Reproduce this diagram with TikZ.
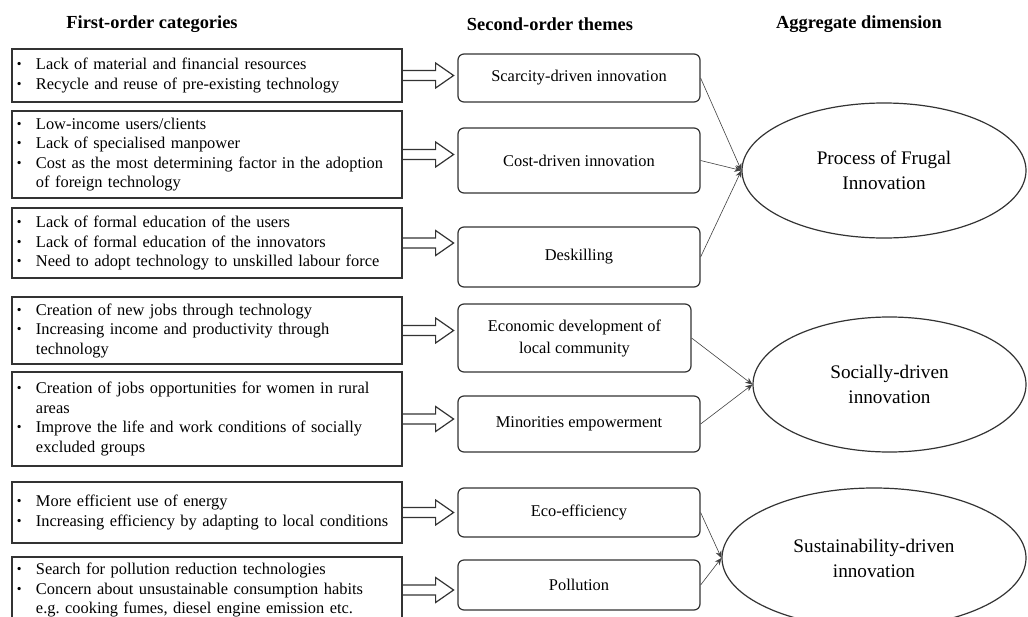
\documentclass[tikz,border=0pt]{standalone}
\usepackage{fontspec}
\setmainfont{Liberation Serif}
\usetikzlibrary{shapes.geometric,arrows.meta}
\newcommand{\bul}{\makebox[20pt][l]{\hspace{1pt}\raisebox{1pt}{\fontsize{13.5}{13.5}\selectfont\textbullet}}}
\newcommand{\cont}{\hspace*{20pt}}
\frenchspacing
\begin{document}
\begin{tikzpicture}
[x=1pt,y={(0pt,-1pt)},
  headLabel/.style={font=\bfseries\fontsize{18.4}{21}\selectfont},%
  catBox/.style={draw=black!80,line width=1.2pt,text width=382pt,align=left,inner sep=4pt,font=\fontsize{16.4}{19.5}\selectfont},%
  themeBox/.style={draw=black!80,line width=1.2pt,rounded corners=6pt,align=center,inner sep=2pt,font=\fontsize{16.4}{22}\selectfont},%
  aggDim/.style={ellipse,draw=black!80,line width=1.2pt,inner sep=0pt,align=center,font=\fontsize{19.2}{25}\selectfont},%
  blockArrow/.style={draw=black!80,line width=1.2pt,line join=miter},%
  thinArrow/.style={-{Stealth[length=7pt,width=6pt]},line width=0.6pt,draw=black!75}]
\clip (0,0) rectangle (1028,616);
\useasboundingbox (0,0) rectangle (1028,616);
%% column headers
\node (h1) at (152,24) [headLabel] {First-order categories};
\node (h2) at (550,24) [headLabel] {Second-order themes};
\node (h3) at (859,24) [headLabel] {Aggregate dimension};
%% first-order categories
\node (l1) at (207,75.5) [catBox,minimum height=53pt] {\bul Lack of material and financial resources\\
  \bul Recycle and reuse of pre-existing technology};
\node (l2) at (207,154.5) [catBox,minimum height=87pt] {\bul Low-income users/clients\\
  \bul Lack of specialised manpower\\
  \bul Cost as the most determining factor in the adoption\\
  \cont of foreign technology};
\node (l3) at (207,243) [catBox,minimum height=70pt] {\bul Lack of formal education of the users\\
  \bul Lack of formal education of the innovators\\
  \bul Need to adopt technology to unskilled labour force};
\node (l4) at (207,330.5) [catBox,minimum height=67pt] {\bul Creation of new jobs through technology\\
  \bul Increasing income and productivity through\\
  \cont technology};
\node (l5) at (207,419) [catBox,minimum height=94pt] {\bul Creation of jobs opportunities for women in rural\\
  \cont areas\\
  \bul Improve the life and work conditions of socially\\
  \cont excluded groups};
\node (l6) at (207,512.5) [catBox,minimum height=61pt] {\bul More efficient use of energy\\
  \bul Increasing efficiency by adapting to local conditions};
\node (l7) at (207,590) [catBox,minimum height=66pt] {\bul Search for pollution reduction technologies\\
  \bul Concern about unsustainable consumption habits\\
  \cont e.g. cooking fumes, diesel engine emission etc.};
%% second-order themes
\foreach \nodename/\x/\y/\w/\h/\txt in {m1/579/78/242/48/{Scarcity-driven innovation},
  m2/579/160.5/242/65/{Cost-driven innovation}, m3/579/257/242/60/{Deskilling},
  m4/574.5/338/233/68/{Economic development of\\local community},
  m5/579/424/242/56/{Minorities empowerment}, m6/579/512.5/242/49/{Eco-efficiency},
  m7/579/585/242/50/{Pollution}}
{
  \node (\nodename) at (\x,\y) [themeBox,minimum width=\w pt,minimum height=\h pt] {\txt};
}
%% aggregate dimensions
\foreach \nodename/\x/\y/\w/\h/\txt in {e1/884/170.5/284/135/{Process of Frugal\\Innovation},
  e2/889.5/384.5/273/135/{Socially-driven\\innovation},
  e3/874/558/304/140/{Sustainability-driven\\innovation}}
{
  \node (\nodename) at (\x,\y) [aggDim,minimum width=\w pt,minimum height=\h pt] {\txt};
}
%% block arrows
\foreach \boxname in {l1,l2,l3,l4,l5,l6,l7}
{
  \draw[blockArrow] (\boxname.east) ++(0,-5) -- ++(33,0) -- ++(0,-7.5) -- ++(18,12.5)
    -- ++(-18,12.5) -- ++(0,-7.5) -- ++(-33,0);
}
%% thin connectors
\path
\foreach \startnode/\endnode in {m1/e1, m2/e1, m3/e1, m4/e2, m5/e2, m6/e3, m7/e3}
{
  (\startnode.east) edge[thinArrow] (\endnode.west)
};
\end{tikzpicture}
\end{document}
